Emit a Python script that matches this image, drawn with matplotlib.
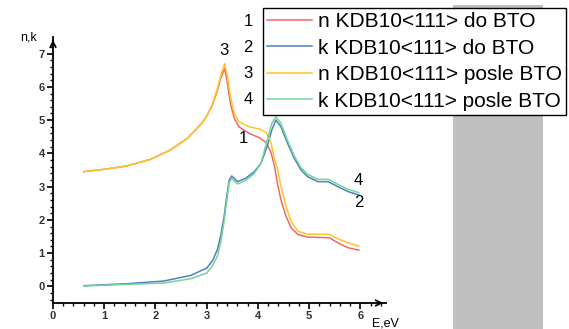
import numpy as np
import matplotlib.pyplot as plt
from matplotlib.patches import Rectangle

plt.rcParams['font.family'] = ['Liberation Sans', 'DejaVu Sans']

# n (refractive index)
e_n = [0.6, 0.99, 1.44, 1.9, 2.29, 2.62, 2.78, 2.9, 3.0, 3.11, 3.21, 3.27, 3.35, 3.4,
       3.47, 3.54, 3.63, 3.83, 4.03, 4.16, 4.25, 4.32, 4.38, 4.45, 4.55, 4.65, 4.78,
       4.97, 5.24, 5.4, 5.56, 5.76, 5.97]
n_do = [3.45, 3.52, 3.62, 3.82, 4.1, 4.45, 4.7, 4.9, 5.12, 5.45, 5.9, 6.25, 6.55, 6.15,
        5.45, 5.05, 4.8, 4.6, 4.47, 4.33, 4.05, 3.65, 3.1, 2.6, 2.1, 1.76, 1.56,
        1.48, 1.47, 1.46, 1.31, 1.16, 1.09]
n_posle = [3.45, 3.52, 3.62, 3.82, 4.1, 4.45, 4.7, 4.9, 5.13, 5.47, 5.95, 6.32, 6.7, 6.35,
           5.65, 5.2, 4.95, 4.8, 4.73, 4.63, 4.35, 3.85, 3.55, 3.0, 2.4, 1.95, 1.66,
           1.57, 1.57, 1.56, 1.43, 1.31, 1.21]

# k (extinction coefficient)
e_k = [0.6, 1.44, 2.16, 2.69, 3.0, 3.11, 3.21, 3.27, 3.34, 3.39, 3.44, 3.49, 3.6, 3.76,
       3.93, 4.06, 4.19, 4.27, 4.35, 4.45, 4.58, 4.71, 4.84, 4.97, 5.17, 5.37, 5.56,
       5.76, 5.97]
k_do = [0.02, 0.08, 0.16, 0.33, 0.55, 0.76, 1.11, 1.5, 2.1, 2.7, 3.2, 3.32, 3.15, 3.25,
        3.45, 3.7, 4.25, 4.7, 5.0, 4.8, 4.3, 3.85, 3.5, 3.3, 3.15, 3.15, 3.0,
        2.85, 2.75]
k_posle = [0.01, 0.06, 0.1, 0.23, 0.4, 0.61, 0.91, 1.3, 1.95, 2.55, 3.12, 3.25, 3.08, 3.18,
           3.4, 3.7, 4.45, 4.9, 5.1, 4.9, 4.38, 3.92, 3.57, 3.37, 3.22, 3.22, 3.07,
           2.92, 2.82]

labels = ['n KDB10<111> do BTO', 'k KDB10<111> do BTO',
          'n KDB10<111> posle BTO', 'k KDB10<111> posle BTO']
colors = ['#f06868', '#4f7fbf', '#ffc526', '#74d49a']

fig = plt.figure(figsize=(5.69, 3.29), dpi=100)
fig.patches.append(Rectangle((453 / 569, 0), 90 / 569, 324 / 329,
                             transform=fig.transFigure, facecolor='#c0c0c0',
                             edgecolor='none', zorder=0))
ax = fig.add_axes([53 / 569, 26 / 329, 333 / 569, 266 / 329])
ax.patch.set_alpha(0)

series = [(e_n, n_do), (e_k, k_do), (e_n, n_posle), (e_k, k_posle)]
lines = []
for (x, y), c, lab in zip(series, colors, labels):
    ln, = ax.plot(x, y, color=c, lw=1.1, label=lab)
    lines.append(ln)

ax.set_xlim(0, 6.5)
ax.set_ylim(-0.5, 7.5)
ax.set_xticks(range(0, 7))
ax.set_yticks(range(0, 8))
ax.set_xticks(np.arange(0, 6.5, 0.2), minor=True)
ax.set_yticks(np.arange(-0.4, 7.4, 0.2), minor=True)
ax.spines['top'].set_visible(False)
ax.spines['right'].set_visible(False)
for s in ['left', 'bottom']:
    ax.spines[s].set_linewidth(1.3)
ax.tick_params(which='major', length=4, width=1.2, labelsize=8, pad=2)
ax.tick_params(which='minor', length=2, width=1.0)
for t in ax.get_xticklabels() + ax.get_yticklabels():
    t.set_fontweight('bold')
    t.set_color('#333333')

# arrow heads on the axes
ax.annotate('', xy=(6.5, -0.5), xytext=(6.3, -0.5),
            arrowprops=dict(arrowstyle='->', lw=1.3, color='k'), annotation_clip=False)
ax.annotate('', xy=(0, 7.5), xytext=(0, 7.3),
            arrowprops=dict(arrowstyle='->', lw=1.3, color='k'), annotation_clip=False)

fig.text(20 / 569, 1 - 38 / 329, 'n,k', fontsize=9, va='center', ha='left')
fig.text(372 / 569, 1 - 323 / 329, 'E,eV', fontsize=9, va='center', ha='left')

# curve numbers
for xx, yy, s in [(3.33, 7.1, '3'), (3.71, 4.46, '1'), (5.96, 3.17, '4'), (5.96, 2.51, '2')]:
    ax.text(xx, yy, s, fontsize=12, ha='center', va='center')

leg = fig.legend(handles=lines, loc='upper left', bbox_to_anchor=(263 / 569, 1 - 8 / 329),
                 fontsize=15, handlelength=2.15, handletextpad=0.3, borderpad=0.2,
                 labelspacing=0.36, fancybox=False, framealpha=1, borderaxespad=0)
leg.get_frame().set_edgecolor('black')
leg.get_frame().set_linewidth(1.0)
leg.set_zorder(5)
for i, yy in enumerate([22, 48, 73, 100]):
    fig.text(248 / 569, 1 - yy / 329, str(i + 1), fontsize=12, ha='center', va='center')

fig.savefig('out.png', dpi=100)
